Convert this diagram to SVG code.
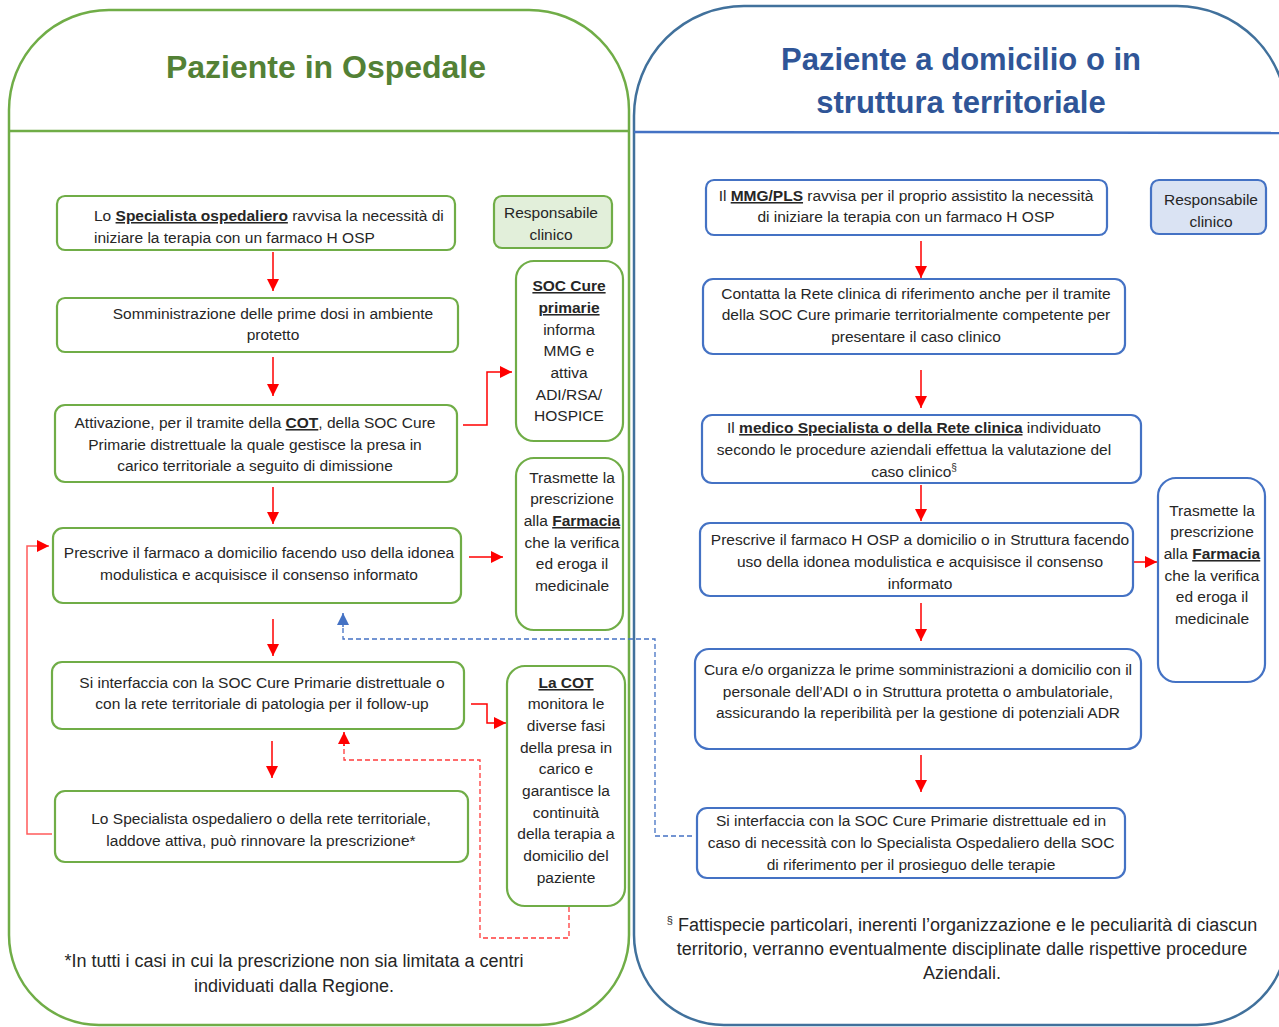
<svg xmlns="http://www.w3.org/2000/svg" width="1279" height="1027" viewBox="0 0 1279 1027">
<defs>
<style>
text{font-family:"Liberation Sans Narrow","Liberation Sans",Arial,sans-serif;fill:#262626;font-size:15.5px}
.c{text-anchor:middle}
.b{font-weight:bold;text-decoration:underline}
.gb{fill:#fff;stroke:#70AD47;stroke-width:2.2}
.gf{fill:#E2EFDA;stroke:#70AD47;stroke-width:2.2}
.bb{fill:#fff;stroke:#4472C4;stroke-width:2.2}
.bf{fill:#DAE3F3;stroke:#4472C4;stroke-width:2.2}
.t1{font-size:32px;font-weight:bold;fill:#538135}
.t2{font-size:31px;font-weight:bold;fill:#2F5597}
.fn{font-size:18px}
.r{fill:none;stroke:#FF0000;stroke-width:1.5}
.rl{fill:none;stroke:#FF5B5B;stroke-width:1.5}
.rd{fill:none;stroke:#FF3B3B;stroke-width:1.3;stroke-dasharray:5 3}
.bd{fill:none;stroke:#4472C4;stroke-width:1.3;stroke-dasharray:5 3}
</style>
<marker id="ar" viewBox="0 0 12 12" refX="12" refY="6" markerWidth="12" markerHeight="12" markerUnits="userSpaceOnUse" orient="auto"><path d="M0,0 L12,6 L0,12z" fill="#FF0000"/></marker>
<marker id="ab" viewBox="0 0 12 12" refX="12" refY="6" markerWidth="12" markerHeight="12" markerUnits="userSpaceOnUse" orient="auto"><path d="M0,0 L12,6 L0,12z" fill="#4472C4"/></marker>
</defs>
<rect width="1279" height="1027" fill="#fff"/>

<g id="panel-left">
<path d="M9,110 A100,100 0 0 1 109,10 L529,10 A100,100 0 0 1 629,110 L629,935 A90,90 0 0 1 539,1025 L99,1025 A90,90 0 0 1 9,935 Z" fill="none" stroke="#70AD47" stroke-width="2.5"/>
<line x1="9" y1="131" x2="629" y2="131" stroke="#70AD47" stroke-width="2.5"/>
<text class="t1 c" x="326" y="78">Paziente in Ospedale</text>
</g>
<g id="panel-right">
<path d="M634,116 A110,110 0 0 1 744,6 L1177,6 A110,110 0 0 1 1287,116 L1287,935 A90,90 0 0 1 1197,1025 L724,1025 A90,90 0 0 1 634,935 Z" fill="none" stroke="#41719C" stroke-width="2.5"/>
<line x1="634" y1="132" x2="1279" y2="133" stroke="#4472C4" stroke-width="2.5"/>
<text class="t2 c" x="961" y="70">Paziente a domicilio o in</text>
<text class="t2 c" x="961" y="113">struttura territoriale</text>
</g>

<g id="connectors">
<path class="r" d="M273,252 V291" marker-end="url(#ar)"/>
<path class="r" d="M273,357 V396" marker-end="url(#ar)"/>
<path class="r" d="M273,487 V524" marker-end="url(#ar)"/>
<path class="r" d="M273,619 V656" marker-end="url(#ar)"/>
<path class="r" d="M272,741 V778" marker-end="url(#ar)"/>
<path class="r" d="M463,425 H487 V372 H512" marker-end="url(#ar)"/>
<path class="r" d="M469,557 H503" marker-end="url(#ar)"/>
<path class="r" d="M471,704 H487 V723 H506" marker-end="url(#ar)"/>
<path class="rl" d="M52,834 H27 V546 H49" marker-end="url(#ar)"/>
<path class="rd" d="M569,907 V938 H480 V760 H344 V745"/>
<path class="r" d="M344,746 V732" marker-end="url(#ar)"/>
<path class="bd" d="M692,836 H655 V639 H343 V626"/>
<path d="M343,627 V613" fill="none" stroke="#4472C4" stroke-width="1.5" marker-end="url(#ab)"/>
<path class="r" d="M921,241 V278" marker-end="url(#ar)"/>
<path class="r" d="M921,370 V408" marker-end="url(#ar)"/>
<path class="r" d="M921,485 V521" marker-end="url(#ar)"/>
<path class="r" d="M921,603 V641" marker-end="url(#ar)"/>
<path class="r" d="M921,755 V792" marker-end="url(#ar)"/>
<path class="r" d="M1133,562 H1157" marker-end="url(#ar)"/>
</g>

<g id="n-specialista">
<rect class="gb" x="57" y="196" width="398" height="54" rx="8"/>
<text x="94" y="221">Lo <tspan class="b">Specialista ospedaliero</tspan> ravvisa la necessità di</text>
<text x="94" y="243">iniziare la terapia con un farmaco H OSP</text>
</g>
<g id="n-resp-left">
<rect class="gf" x="494" y="196" width="118" height="52" rx="8"/>
<text class="c" x="551" y="218">Responsabile</text>
<text class="c" x="551" y="240">clinico</text>
</g>
<g id="n-somministrazione">
<rect class="gb" x="57" y="298" width="401" height="54" rx="8"/>
<text class="c" x="273" y="319">Somministrazione delle prime dosi in ambiente</text>
<text class="c" x="273" y="340">protetto</text>
</g>
<g id="n-attivazione">
<rect class="gb" x="55" y="405" width="402" height="77" rx="10"/>
<text class="c" x="255" y="428">Attivazione, per il tramite della <tspan class="b">COT</tspan>, della SOC Cure</text>
<text class="c" x="255" y="450">Primarie distrettuale la quale gestisce la presa in</text>
<text class="c" x="255" y="471">carico territoriale a seguito di dimissione</text>
</g>
<g id="n-prescrive-left">
<rect class="gb" x="53" y="528" width="408" height="75" rx="10"/>
<text class="c" x="259" y="558">Prescrive il farmaco a domicilio facendo uso della idonea</text>
<text class="c" x="259" y="580">modulistica e acquisisce il consenso informato</text>
</g>
<g id="n-interfaccia-left">
<rect class="gb" x="52" y="662" width="412" height="67" rx="10"/>
<text class="c" x="262" y="688">Si interfaccia con la SOC Cure Primarie distrettuale o</text>
<text class="c" x="262" y="709">con la rete territoriale di patologia per il follow-up</text>
</g>
<g id="n-rinnovo">
<rect class="gb" x="55" y="791" width="413" height="71" rx="10"/>
<text class="c" x="261" y="824">Lo Specialista ospedaliero o della rete territoriale,</text>
<text class="c" x="261" y="846">laddove attiva, può rinnovare la prescrizione*</text>
</g>
<g id="n-soc">
<rect class="gb" x="516" y="261" width="107" height="180" rx="18"/>
<text class="c" x="569" y="291"><tspan class="b">SOC Cure</tspan></text>
<text class="c" x="569" y="313"><tspan class="b">primarie</tspan></text>
<text class="c" x="569" y="335">informa</text>
<text class="c" x="569" y="356">MMG e</text>
<text class="c" x="569" y="378">attiva</text>
<text class="c" x="569" y="400">ADI/RSA/</text>
<text class="c" x="569" y="421">HOSPICE</text>
</g>
<g id="n-farmacia-left">
<rect class="gb" x="516" y="458" width="107" height="172" rx="18"/>
<text class="c" x="572" y="483">Trasmette la</text>
<text class="c" x="572" y="504">prescrizione</text>
<text class="c" x="572" y="526">alla <tspan class="b">Farmacia</tspan></text>
<text class="c" x="572" y="548">che la verifica</text>
<text class="c" x="572" y="569">ed eroga il</text>
<text class="c" x="572" y="591">medicinale</text>
</g>
<g id="n-cot">
<rect class="gb" x="507" y="666" width="118" height="240" rx="18"/>
<text class="c" x="566" y="688"><tspan class="b">La COT</tspan></text>
<text class="c" x="566" y="709">monitora le</text>
<text class="c" x="566" y="731">diverse fasi</text>
<text class="c" x="566" y="753">della presa in</text>
<text class="c" x="566" y="774">carico e</text>
<text class="c" x="566" y="796">garantisce la</text>
<text class="c" x="566" y="818">continuità</text>
<text class="c" x="566" y="839">della terapia a</text>
<text class="c" x="566" y="861">domicilio del</text>
<text class="c" x="566" y="883">paziente</text>
</g>
<g id="note-left">
<text class="c fn" x="294" y="967">*In tutti i casi in cui la prescrizione non sia limitata a centri</text>
<text class="c fn" x="294" y="992">individuati dalla Regione.</text>
</g>

<g id="n-mmg">
<rect class="bb" x="706" y="180" width="401" height="55" rx="8"/>
<text class="c" x="906" y="201">Il  <tspan class="b">MMG/PLS</tspan> ravvisa per il proprio assistito la necessità</text>
<text class="c" x="906" y="222">di iniziare la terapia con un farmaco H OSP</text>
</g>
<g id="n-resp-right">
<rect class="bf" x="1151" y="180" width="115" height="54" rx="8"/>
<text class="c" x="1211" y="205">Responsabile</text>
<text class="c" x="1211" y="227">clinico</text>
</g>
<g id="n-contatta">
<rect class="bb" x="703" y="279" width="422" height="75" rx="10"/>
<text class="c" x="916" y="299">Contatta la Rete clinica di riferimento anche per il tramite</text>
<text class="c" x="916" y="320">della SOC Cure primarie territorialmente competente per</text>
<text class="c" x="916" y="342">presentare il caso clinico</text>
</g>
<g id="n-medico">
<rect class="bb" x="702" y="415" width="439" height="68" rx="10"/>
<text class="c" x="914" y="433">Il <tspan class="b">medico Specialista o della Rete clinica</tspan> individuato</text>
<text class="c" x="914" y="455">secondo le procedure aziendali effettua la valutazione del</text>
<text class="c" x="914" y="477">caso clinico<tspan font-size="10" dy="-6">§</tspan></text>
</g>
<g id="n-prescrive-right">
<rect class="bb" x="700" y="523" width="433" height="73" rx="10"/>
<text class="c" x="920" y="545">Prescrive il farmaco H OSP a domicilio o in Struttura facendo</text>
<text class="c" x="920" y="567">uso della idonea modulistica e acquisisce il consenso</text>
<text class="c" x="920" y="589">informato</text>
</g>
<g id="n-cura">
<rect class="bb" x="695" y="649" width="446" height="100" rx="14"/>
<text class="c" x="918" y="675">Cura e/o organizza le prime somministrazioni a domicilio con il</text>
<text class="c" x="918" y="697">personale dell’ADI o in Struttura protetta o ambulatoriale,</text>
<text class="c" x="918" y="718">assicurando la reperibilità per la gestione di potenziali ADR</text>
</g>
<g id="n-interfaccia-right">
<rect class="bb" x="697" y="808" width="428" height="70" rx="10"/>
<text class="c" x="911" y="826">Si interfaccia con la SOC Cure Primarie distrettuale ed in</text>
<text class="c" x="911" y="848">caso di necessità con lo Specialista Ospedaliero della SOC</text>
<text class="c" x="911" y="870">di riferimento per il prosieguo delle terapie</text>
</g>
<g id="n-farmacia-right">
<rect class="bb" x="1158" y="478" width="107" height="204" rx="18"/>
<text class="c" x="1212" y="516">Trasmette la</text>
<text class="c" x="1212" y="537">prescrizione</text>
<text class="c" x="1212" y="559">alla <tspan class="b">Farmacia</tspan></text>
<text class="c" x="1212" y="581">che la verifica</text>
<text class="c" x="1212" y="602">ed eroga il</text>
<text class="c" x="1212" y="624">medicinale</text>
</g>
<g id="note-right">
<text class="c fn" x="962" y="931"><tspan font-size="11" dy="-7">§</tspan><tspan dy="7"> Fattispecie particolari, inerenti l’organizzazione e le peculiarità di ciascun</tspan></text>
<text class="c fn" x="962" y="955">territorio, verranno eventualmente disciplinate dalle rispettive procedure</text>
<text class="c fn" x="962" y="979">Aziendali.</text>
</g>
</svg>
